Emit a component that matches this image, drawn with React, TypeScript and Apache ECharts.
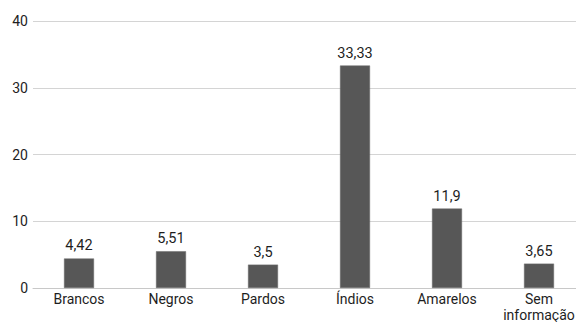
import React, { useEffect, useRef } from "react";
import * as echarts from "echarts";

const categories = ["Brancos", "Negros", "Pardos", "Índios", "Amarelos", "Sem\ninformação"];
const values = [4.42, 5.51, 3.5, 33.33, 11.9, 3.65];
const yTicks = { min: 0, max: 40, interval: 10 };

const FONT = "Roboto, 'Liberation Sans', Arial, sans-serif";

export default function App() {
  const ref = useRef<HTMLDivElement>(null);

  useEffect(() => {
    if (!ref.current) return;
    const chart = echarts.init(ref.current, undefined, { renderer: "svg" });
    chart.setOption({
      animation: false,
      grid: { left: 33, right: 0, top: 21, bottom: 52, containLabel: false },
      xAxis: {
        type: "category",
        data: categories,
        axisLine: { show: true, lineStyle: { color: "#c8c8c8", width: 1 } },
        axisTick: { show: false },
        axisLabel: {
          color: "#1e1e1e",
          fontFamily: FONT,
          fontSize: 14,
          margin: 3,
          lineHeight: 16,
          interval: 0,
        },
      },
      yAxis: {
        type: "value",
        min: yTicks.min,
        max: yTicks.max,
        interval: yTicks.interval,
        axisLine: { show: false },
        axisTick: { show: false },
        splitLine: { lineStyle: { color: "#d4d4d4", width: 1 } },
        axisLabel: { color: "#1e1e1e", fontFamily: FONT, fontSize: 14, margin: 5 },
      },
      series: [
        {
          type: "bar",
          data: values,
          barWidth: 30,
          itemStyle: { color: "#575757", borderColor: "#6a6a6a", borderWidth: 0.5 },
          label: {
            show: true,
            position: "top",
            distance: 5,
            color: "#1e1e1e",
            fontFamily: FONT,
            fontSize: 14.5,
            formatter: (p: any) => String(p.value).replace(".", ","),
          },
        },
      ],
    });
    return () => chart.dispose();
  }, []);

  // The plot runs a little past the right and bottom edges, so the frame clips it.
  return (
    <div
      style={{
        position: "fixed",
        left: 0,
        top: 0,
        width: 576,
        height: 322,
        overflow: "hidden",
        background: "#fff",
      }}
    >
      <div ref={ref} style={{ width: 585, height: 340 }} />
    </div>
  );
}
